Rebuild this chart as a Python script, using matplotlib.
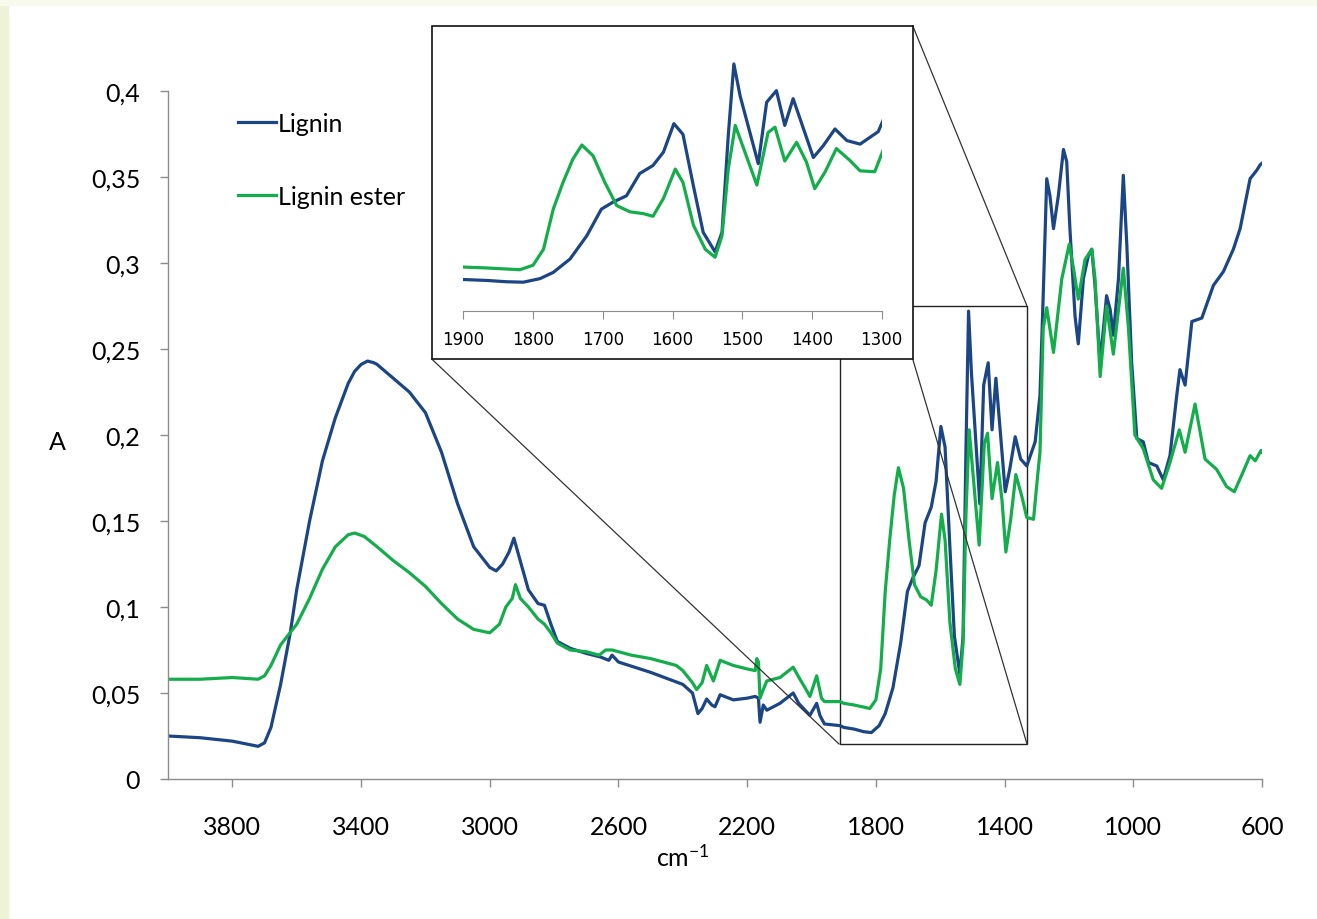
import numpy as np
import matplotlib.pyplot as plt
from matplotlib.patches import Rectangle

plt.rcParams['font.family'] = ['Lato', 'DejaVu Sans']
plt.rcParams['mathtext.default'] = 'regular'

# wavenumber (cm-1) and absorbance
lignin_wn = [4000, 3900, 3800, 3720, 3700, 3680, 3650, 3620, 3600, 3560, 3520, 3480,
             3440, 3420, 3400, 3380, 3360, 3350, 3300, 3250, 3200, 3150, 3100, 3050, 3000, 2980,
             2960, 2940, 2925, 2910, 2880, 2850, 2830, 2810, 2790, 2750, 2700, 2657,
             2630, 2620, 2600, 2500, 2400, 2370, 2353, 2340, 2326, 2310, 2300, 2284,
             2243, 2200, 2175, 2165, 2160, 2150, 2139, 2098, 2057, 2040, 2020, 2005,
             1984, 1974, 1960, 1911,
             1900, 1867, 1838, 1814, 1790, 1771, 1747, 1723, 1702, 1685, 1666, 1647,
             1628, 1613, 1598, 1585, 1570, 1556, 1539, 1529, 1520, 1512, 1503, 1489,
             1477, 1465, 1451, 1439, 1427, 1412, 1398, 1384, 1367, 1350, 1331,
             1305, 1290, 1280, 1269, 1259, 1248, 1233, 1217, 1207, 1197, 1181, 1171,
             1155, 1140, 1129, 1119, 1103, 1083, 1072, 1062, 1046, 1031, 1020, 1005,
             989, 969, 953, 927, 907, 886, 865, 855, 839, 818, 787, 751, 720, 689,
             668, 637, 616, 606, 600]
lignin_a = [0.025, 0.024, 0.022, 0.019, 0.021, 0.030, 0.055, 0.085, 0.110, 0.150, 0.185, 0.210,
            0.230, 0.237, 0.241, 0.243, 0.242, 0.241, 0.233, 0.225, 0.213, 0.190, 0.160, 0.135, 0.123, 0.121,
            0.125, 0.132, 0.140, 0.130, 0.110, 0.102, 0.101, 0.090, 0.080, 0.076, 0.073, 0.071,
            0.069, 0.072, 0.068, 0.062, 0.055, 0.050, 0.038, 0.041, 0.0465, 0.043, 0.042, 0.049,
            0.046, 0.047, 0.048, 0.047, 0.033, 0.043, 0.040, 0.044, 0.050, 0.044, 0.040, 0.037,
            0.044, 0.037, 0.032, 0.031,
            0.030, 0.029, 0.0275, 0.027, 0.031, 0.038, 0.053, 0.079, 0.109, 0.117, 0.124, 0.149,
            0.158, 0.173, 0.205, 0.193, 0.135, 0.083, 0.061, 0.083, 0.192, 0.272, 0.236, 0.195,
            0.160, 0.229, 0.242, 0.203, 0.233, 0.199, 0.167, 0.180, 0.199, 0.186, 0.182,
            0.196, 0.223, 0.281, 0.349, 0.339, 0.320, 0.339, 0.366, 0.359, 0.320, 0.269, 0.253,
            0.291, 0.304, 0.308, 0.287, 0.242, 0.281, 0.273, 0.258, 0.291, 0.351, 0.310, 0.242,
            0.198, 0.196, 0.184, 0.182, 0.174, 0.188, 0.223, 0.238, 0.229, 0.266, 0.268, 0.287,
            0.295, 0.308, 0.320, 0.349, 0.354, 0.357, 0.358]

ester_wn = [4000, 3900, 3800, 3720, 3700, 3680, 3650, 3600, 3560, 3520, 3480, 3440,
            3420, 3390, 3350, 3300, 3250, 3200, 3150, 3100, 3050, 3000, 2970, 2950,
            2930, 2920, 2905, 2880, 2850, 2830, 2810, 2790, 2750, 2700, 2660, 2640,
            2620, 2560, 2500, 2420, 2400, 2370, 2357, 2340, 2326, 2305, 2284, 2243,
            2200, 2175, 2170, 2165, 2160, 2150, 2139, 2098, 2057, 2036, 2020, 2005,
            1984, 1969, 1960, 1911,
            1900, 1867, 1819, 1800, 1785, 1771, 1757, 1743, 1730, 1714, 1697, 1680,
            1661, 1642, 1628, 1613, 1596, 1585, 1570, 1553, 1539, 1529, 1520, 1510,
            1498, 1479, 1463, 1453, 1439, 1422, 1408, 1396, 1381, 1365, 1346, 1331,
            1310, 1298, 1290, 1280, 1269, 1248, 1222, 1199, 1186, 1171, 1150, 1129,
            1119, 1103, 1083, 1062, 1031, 1015, 995, 969, 938, 912, 886, 857, 839,
            808, 777, 741, 710, 686, 660, 637, 621, 603, 600]
ester_a = [0.058, 0.058, 0.059, 0.058, 0.060, 0.066, 0.078, 0.090, 0.105, 0.122, 0.135, 0.142,
           0.143, 0.141, 0.135, 0.127, 0.120, 0.112, 0.102, 0.093, 0.087, 0.085, 0.090, 0.100,
           0.105, 0.113, 0.105, 0.100, 0.093, 0.090, 0.085, 0.079, 0.075, 0.074, 0.072, 0.075,
           0.075, 0.072, 0.070, 0.066, 0.063, 0.056, 0.052, 0.056, 0.066, 0.057, 0.069, 0.066,
           0.064, 0.063, 0.070, 0.068, 0.047, 0.052, 0.057, 0.059, 0.065, 0.058, 0.053, 0.048,
           0.060, 0.047, 0.045, 0.045,
           0.044, 0.043, 0.041, 0.046, 0.064, 0.109, 0.139, 0.165, 0.181, 0.169, 0.139, 0.113,
           0.106, 0.104, 0.101, 0.121, 0.154, 0.139, 0.091, 0.064, 0.055, 0.079, 0.154, 0.203,
           0.177, 0.136, 0.195, 0.201, 0.163, 0.184, 0.162, 0.132, 0.151, 0.177, 0.164, 0.152,
           0.151, 0.175, 0.190, 0.262, 0.274, 0.248, 0.291, 0.311, 0.297, 0.279, 0.302, 0.308,
           0.291, 0.234, 0.275, 0.247, 0.297, 0.262, 0.200, 0.192, 0.174, 0.169, 0.184, 0.203, 0.190,
           0.218, 0.186, 0.180, 0.170, 0.167, 0.178, 0.188, 0.185, 0.191, 0.190]

x_ticks = [3800, 3400, 3000, 2600, 2200, 1800, 1400, 1000, 600]
y_ticks = [0, 0.05, 0.1, 0.15, 0.2, 0.25, 0.3, 0.35, 0.4]
y_ticklabels = ['0', '0,05', '0,1', '0,15', '0,2', '0,25', '0,3', '0,35', '0,4']
inset_ticks = [1900, 1800, 1700, 1600, 1500, 1400, 1300]

blue = '#1c4585'
green = '#14ad4b'
W, H = 1317, 920

fig = plt.figure(figsize=(W / 100, H / 100), dpi=100)
fig.patches.append(Rectangle((0, 0), 8 / W, 1, transform=fig.transFigure, color='#eef3d8', zorder=-5))
fig.patches.append(Rectangle((0, 1 - 6 / H), 1, 6 / H, transform=fig.transFigure, color='#f8faee', zorder=-5))

ax = fig.add_axes([168 / W, 1 - 780 / H, (1262 - 168) / W, (780 - 92) / H])
ax.plot(lignin_wn, lignin_a, color=blue, lw=2.3, label='Lignin')
ax.plot(ester_wn, ester_a, color=green, lw=2.3, label='Lignin ester')
ax.set_xlim(4000, 600)
ax.set_ylim(0, 0.4)
ax.set_xticks(x_ticks)
ax.set_yticks(y_ticks)
ax.set_yticklabels(y_ticklabels)
for s in ['top', 'right']:
    ax.spines[s].set_visible(False)
for s in ['left', 'bottom']:
    ax.spines[s].set_color('#8c8c8c')
    ax.spines[s].set_linewidth(1.0)
ax.tick_params(axis='x', direction='out', length=6, width=1, color='#8c8c8c', pad=20, labelsize=18)
ax.tick_params(axis='y', direction='out', length=6, width=1, color='#8c8c8c', pad=14, labelsize=18)
ax.legend(loc='upper left', bbox_to_anchor=(0.064, 0.970), frameon=False, borderaxespad=0,
          borderpad=0, handlelength=1.5, handletextpad=0.1, labelspacing=2.0, fontsize=18)

# zoom box and connector lines
ax.add_patch(Rectangle((1330, 0.0203), 1912 - 1330, 0.2547, fill=False, ec='#222222', lw=1.0, zorder=1))

fig.text(57 / W, 1 - 443 / H, 'A', fontsize=18, ha='center', va='center')
fig.text(683 / W, 1 - 857 / H, 'cm$^{-1}$', fontsize=18, ha='center', va='center')

# inset frame (figure coords)
fx0, fy0, fx1, fy1 = 431.7, 26.7, 912.7, 360
fig.patches.append(Rectangle((fx0 / W, 1 - fy1 / H), (fx1 - fx0) / W, (fy1 - fy0) / H,
                             transform=fig.transFigure, fc='white', ec='#111111', lw=1.2, zorder=2))
connectors = [((fx0, fy1), (839, 745)), ((fx1, fy0), (1027, 307)), ((fx1, fy1), (1027, 745))]
for (a1, b1), (a2, b2) in connectors:
    fig.add_artist(plt.Line2D([a1 / W, a2 / W], [1 - b1 / H, 1 - b2 / H], transform=fig.transFigure,
                              color='#333333', lw=0.9, zorder=1))

axin = fig.add_axes([463.3 / W, 1 - 311.7 / H, (881.7 - 463.3) / W, (311.7 - 40) / H], zorder=3)
axin.patch.set_alpha(0)
axin.plot(lignin_wn, lignin_a, color=blue, lw=2.3)
axin.plot(ester_wn, ester_a, color=green, lw=2.3)
axin.set_xlim(1900, 1300)
axin.set_ylim(-0.005, 0.3)
axin.set_xticks(inset_ticks)
axin.set_yticks([])
for s in ['top', 'right', 'left']:
    axin.spines[s].set_visible(False)
axin.spines['bottom'].set_color('#8c8c8c')
axin.tick_params(axis='x', direction='out', length=6, color='#8c8c8c', pad=8, labelsize=12)
for t in axin.get_xticklabels():
    t.set_fontfamily('DejaVu Sans')

fig.savefig('out.png', dpi=100)
